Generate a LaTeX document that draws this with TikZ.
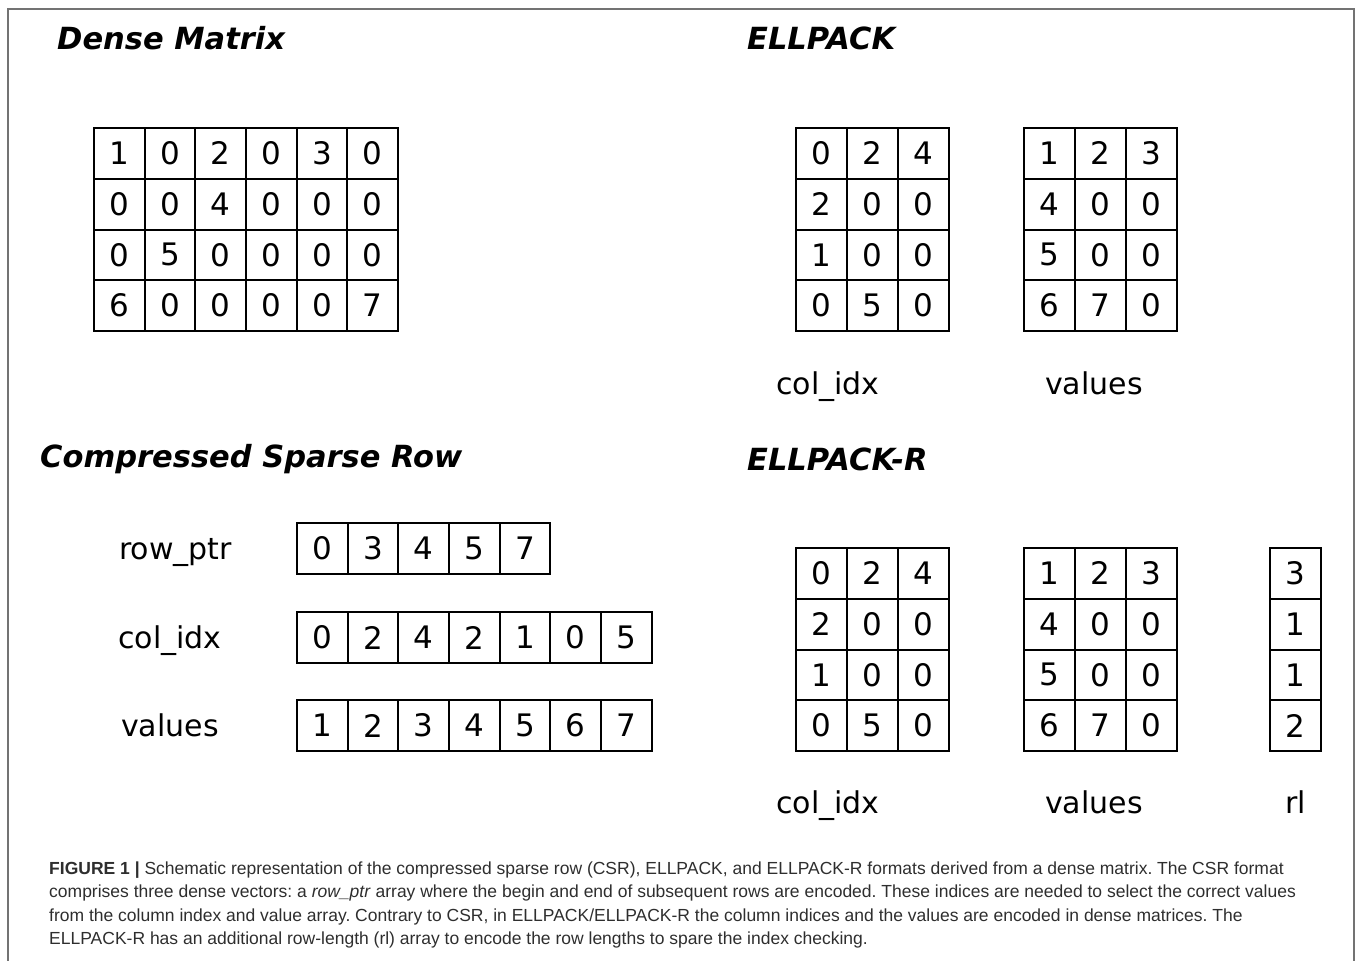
\documentclass[tikz,border=0pt]{standalone}
\usepackage{fontspec}
\newfontfamily\dvfont{DejaVu Sans}
\newfontfamily\capfont{Liberation Sans}
\begin{document}
\begin{tikzpicture}[x=1pt,y=-1pt,
  cell/.style={draw,line width=2pt,minimum width=50.7pt,minimum height=50.75pt,inner sep=0pt,
    font=\dvfont\fontsize{31}{31}\selectfont},
  lbl/.style={inner sep=0pt,anchor=base,font=\dvfont\fontsize{30}{30}\selectfont},
  ttl/.style={inner sep=0pt,anchor=west,font=\dvfont\bfseries\itshape\fontsize{30.5}{30.5}\selectfont},
  capline/.style={inner sep=0pt,anchor=base west,text=black!82,font=\capfont\frenchspacing\fontsize{17.5}{17.5}\selectfont},
  frame/.style={draw=black!55,line width=1.5pt}]
\useasboundingbox (0,0) rectangle (1358,961);
\coordinate (fa) at (8,961);
\coordinate (fb) at (8,9);
\coordinate (fc) at (1354,9);
\coordinate (fd) at (1354,961);
\draw[frame] (fa) -- (fb) -- (fc) -- (fd);
% titles
\node[ttl] (t1) at (57,38) {Dense Matrix};
\node[ttl] (t2) at (747,38) {ELLPACK};
\node[ttl] (t3) at (40,459) {Compressed Sparse Row};
\node[ttl] (t4) at (747,459) {ELLPACK-R};
% dense matrix
\foreach \row [count=\j from 0] in {{1,0,2,0,3,0},{0,0,4,0,0,0},{0,5,0,0,0,0},{6,0,0,0,0,7}}{
  \foreach \v [count=\i from 0] in \row {
    \node[cell] (d-\j-\i) at ({94+50.67*(\i+0.5)},{128+50.75*(\j+0.5)}) {\v};}}
% ELLPACK
\foreach \row [count=\j from 0] in {{0,2,4},{2,0,0},{1,0,0},{0,5,0}}{
  \foreach \v [count=\i from 0] in \row {
    \node[cell] (ec-\j-\i) at ({796+51*(\i+0.5)},{128+50.75*(\j+0.5)}) {\v};
    \node[cell] (erc-\j-\i) at ({796+51*(\i+0.5)},{548+50.75*(\j+0.5)}) {\v};}}
\foreach \row [count=\j from 0] in {{1,2,3},{4,0,0},{5,0,0},{6,7,0}}{
  \foreach \v [count=\i from 0] in \row {
    \node[cell] (ev-\j-\i) at ({1024+51*(\i+0.5)},{128+50.75*(\j+0.5)}) {\v};
    \node[cell] (erv-\j-\i) at ({1024+51*(\i+0.5)},{548+50.75*(\j+0.5)}) {\v};}}
\foreach \v [count=\j from 0] in {3,1,1,2}{
  \node[cell] (rl-\j) at (1295.5,{548+50.75*(\j+0.5)}) {\v};}
\node[lbl] (l1) at (828,394.4) {col\_idx};
\node[lbl] (l2) at (1094,394.4) {values};
\node[lbl] (l3) at (828,813.4) {col\_idx};
\node[lbl] (l4) at (1094,813.4) {values};
\node[lbl] (l5) at (1295.5,813.4) {rl};
% CSR
\foreach \v [count=\i from 0] in {0,3,4,5,7}{
  \node[cell] (rp-\i) at ({297+50.67*(\i+0.5)},548.5) {\v};}
\foreach \v [count=\i from 0] in {0,2,4,2,1,0,5}{
  \node[cell] (ci-\i) at ({297+50.67*(\i+0.5)},637.5) {\v};}
\foreach \v [count=\i from 0] in {1,2,3,4,5,6,7}{
  \node[cell] (va-\i) at ({297+50.67*(\i+0.5)},725.5) {\v};}
\node[lbl,anchor=base west] (l6) at (119,559.4) {row\_ptr};
\node[lbl,anchor=base west] (l7) at (118,648.4) {col\_idx};
\node[lbl,anchor=base west] (l8) at (121,736.4) {values};
% caption
\node[capline] (c1) at (49,874) {\textbf{FIGURE 1 |} Schematic representation of the compressed sparse row (CSR), ELLPACK, and ELLPACK-R formats derived from a dense matrix. The CSR format};
\node[capline] (c2) at (49,897.5) {comprises three dense vectors: a \textit{row\_ptr} array where the begin and end of subsequent rows are encoded. These indices are needed to select the correct values};
\node[capline] (c3) at (49,921) {from the column index and value array. Contrary to CSR, in ELLPACK/ELLPACK-R the column indices and the values are encoded in dense matrices. The};
\node[capline] (c4) at (49,944.5) {ELLPACK-R has an additional row-length (rl) array to encode the row lengths to spare the index checking.};
\end{tikzpicture}
\end{document}
